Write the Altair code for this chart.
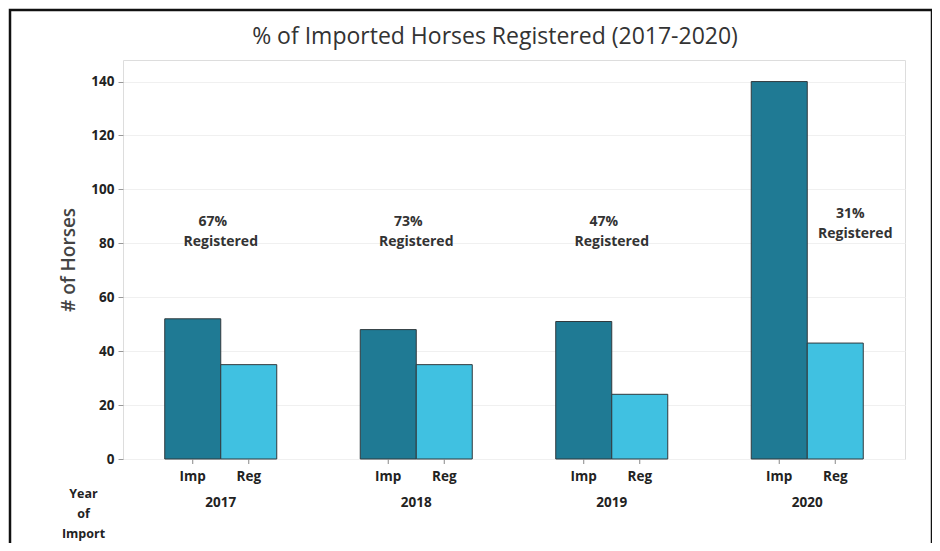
import altair as alt
import pandas as pd

years = ["2017", "2018", "2019", "2020"]
imported = [52, 48, 51, 140]
registered = [35, 35, 24, 43]
pct_labels = ["67%", "73%", "47%", "31%"]
types = ["Imp", "Reg"]
title_text = "% of Imported Horses Registered (2017-2020)"

rows = []
for i, y in enumerate(years):
    rows.append({"year": y, "type": "Imp", "count": imported[i]})
    rows.append({"year": y, "type": "Reg", "count": registered[i]})
df = pd.DataFrame(rows)

ann = pd.DataFrame({"year": years, "pct": pct_labels,
                    "ypct": [87.9, 87.9, 87.9, 90.8],
                    "yreg": [80.4, 80.4, 80.4, 83.4],
                    "word": ["Registered"] * 4})

FONT = "Open Sans"
W, H = 782, 399

xenc = alt.X("year:N", sort=years,
             scale=alt.Scale(paddingInner=0.427, paddingOuter=0.2135),
             axis=alt.Axis(title=["Year", "of", "Import"], titleX=-40, titleY=28,
                           titleAlign="center", titleBaseline="top",
                           titleFontSize=12.5, titleFontWeight="bold", titleColor="#222",
                           titleLineHeight=20, titleFont=FONT,
                           labelAngle=0, labelPadding=36, labelFontSize=13.5,
                           labelFontWeight="bold", labelColor="#222", labelFont=FONT,
                           ticks=False, domain=False, grid=False))
xoff = alt.XOffset("type:N", sort=types, scale=alt.Scale(paddingInner=0, paddingOuter=0))

base = alt.Chart(df)

bars = base.mark_bar(stroke="#30393d", strokeWidth=1).encode(
    x=xenc,
    xOffset=xoff,
    y=alt.Y("count:Q", scale=alt.Scale(domain=[0, 148], nice=False),
            axis=alt.Axis(title="# of Horses", values=list(range(0, 141, 20)),
                          titleFontSize=19, titleFontWeight=600, titleColor="#444",
                          titleFont=FONT, titlePadding=12,
                          labelFontSize=13.5, labelFontWeight="bold", labelColor="#222",
                          labelFont=FONT, labelPadding=4,
                          tickColor="#999", tickSize=5, domain=False,
                          gridColor="#f0f0f0")),
    color=alt.Color("type:N", sort=types,
                    scale=alt.Scale(domain=types, range=["#1f7a94", "#40c1e1"]),
                    legend=None),
)

type_labels = base.mark_text(fontSize=13.5, fontWeight="bold", color="#222", font=FONT,
                             baseline="middle").encode(
    x=alt.X("year:N", sort=years), xOffset=xoff, y=alt.value(H + 18), text="type:N")

ticks = base.mark_rule(color="#888", strokeWidth=1).encode(
    x=alt.X("year:N", sort=years), xOffset=xoff, y=alt.value(H), y2=alt.value(H + 5))

abase = alt.Chart(ann)
tstyle = dict(fontSize=14, fontWeight="bold", color="#333", font=FONT, baseline="middle")
first3 = alt.datum.year != "2020"
last = alt.datum.year == "2020"
pct1 = abase.transform_filter(first3).mark_text(dx=-8, **tstyle).encode(
    x=alt.X("year:N", sort=years), y="ypct:Q", text="pct:N")
reg1 = abase.transform_filter(first3).mark_text(dx=0, **tstyle).encode(
    x=alt.X("year:N", sort=years), y="yreg:Q", text="word:N")
pct2 = abase.transform_filter(last).mark_text(dx=43, **tstyle).encode(
    x=alt.X("year:N", sort=years), y="ypct:Q", text="pct:N")
reg2 = abase.transform_filter(last).mark_text(dx=48, **tstyle).encode(
    x=alt.X("year:N", sort=years), y="yreg:Q", text="word:N")

one = alt.Chart(pd.DataFrame({"a": [0]}))
frame = one.mark_rect(fill=None, stroke="#111", strokeWidth=2.5).encode(
    x=alt.value(-113), x2=alt.value(809), y=alt.value(-50), y2=alt.value(500))
title = one.mark_text(fontSize=23, font=FONT, color="#333", baseline="middle",
                      align="center").encode(
    x=alt.value(W / 2 - 19), y=alt.value(-23), text=alt.value(title_text))

chart = alt.layer(bars, ticks, type_labels, pct1, reg1, pct2, reg2, frame, title).properties(
    width=W, height=H,
    autosize=alt.AutoSizeParams(type="none"),
    padding={"left": 115, "top": 52, "right": 27, "bottom": 84},
).configure_view(stroke="#aaa4a4", strokeWidth=1.5).configure(background="white")

chart.save("out.html", embed_options={"renderer": "svg", "actions": False})
